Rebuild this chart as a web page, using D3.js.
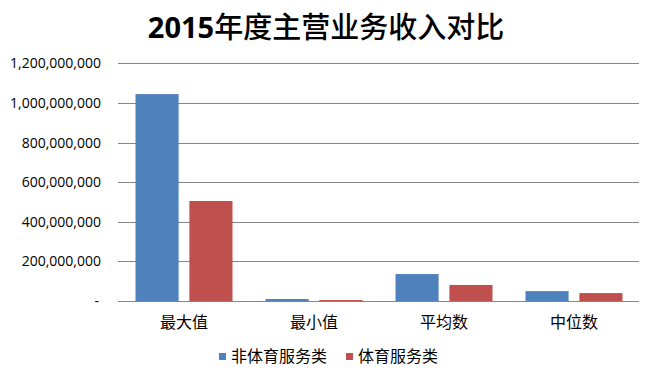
<!DOCTYPE html>
<html>
<head>
<meta charset="utf-8">
<script src="https://cdn.jsdelivr.net/npm/d3@7"></script>
<style>
  body { margin: 0; background: #fff; }
  svg text { font-family: "Noto Sans CJK SC", sans-serif; }
</style>
</head>
<body>
<svg id="chart" width="652" height="373"></svg>
<script>
const categories = ['最大值', '最小值', '平均数', '中位数'];
const seriesNames = ['非体育服务类', '体育服务类'];
const nonSports = [1045000000, 10000000, 136000000, 50000000];
const sports = [505000000, 5000000, 81000000, 40000000];
const yTicks = [0, 200000000, 400000000, 600000000, 800000000, 1000000000, 1200000000];
const colors = ['#4F81BD', '#C0504D'];

const svg = d3.select('#chart');
const plotLeft = 119, plotRight = 639, plotTop = 63.4, plotBottom = 301;

const x = d3.scaleBand()
    .domain(categories)
    .range([plotLeft, plotRight])
    .paddingInner(0.254)
    .paddingOuter(0.127);

const x1 = d3.scaleBand()
    .domain(seriesNames)
    .range([0, x.bandwidth()])
    .paddingInner(0.2);

const y = d3.scaleLinear()
    .domain([0, 1200000000])
    .range([plotBottom, plotTop]);

// title: digits bold, CJK a bit lighter like the original
const title = svg.append('text')
    .attr('x', 326)
    .attr('y', 38)
    .attr('text-anchor', 'middle')
    .style('font-size', '29px')
    .attr('fill', '#000');
title.append('tspan')
    .style('font-family', '"Open Sans", sans-serif')
    .style('font-weight', 'bold')
    .text('2015');
title.append('tspan')
    .style('font-weight', '500')
    .text('年度主营业务收入对比');

// gridlines
svg.append('g')
    .selectAll('line')
    .data(yTicks)
    .enter().append('line')
    .attr('x1', plotLeft - 1)
    .attr('x2', plotRight)
    .attr('y1', d => Math.round(y(d)) + 0.5)
    .attr('y2', d => Math.round(y(d)) + 0.5)
    .attr('stroke', '#868686')
    .attr('stroke-width', 1);

// y labels
const fmt = d3.format(',');
svg.append('g')
    .selectAll('text')
    .data(yTicks)
    .enter().append('text')
    .attr('x', d => d === 0 ? 99 : 101)
    .attr('y', d => y(d) + 5)
    .attr('text-anchor', 'end')
    .style('font-family', '"Open Sans", sans-serif')
    .style('font-size', '14px')
    .attr('fill', '#000')
    .text(d => d === 0 ? '-' : fmt(d));

// bars
const rows = categories.map((c, i) => ({ cat: c, vals: [nonSports[i], sports[i]] }));
const groups = svg.append('g')
    .selectAll('g')
    .data(rows)
    .enter().append('g')
    .attr('transform', d => 'translate(' + x(d.cat) + ',0)');

groups.selectAll('rect')
    .data(d => d.vals.map((v, j) => ({ name: seriesNames[j], v: v, j: j })))
    .enter().append('rect')
    .attr('x', d => x1(d.name))
    .attr('width', x1.bandwidth())
    .attr('y', d => y(d.v))
    .attr('height', d => plotBottom - y(d.v))
    .attr('fill', d => colors[d.j]);

// x labels
svg.append('g')
    .selectAll('text')
    .data(categories)
    .enter().append('text')
    .attr('x', d => x(d) + x.bandwidth() / 2)
    .attr('y', 328)
    .attr('text-anchor', 'middle')
    .style('font-size', '16px')
    .attr('fill', '#000')
    .text(d => d);

// legend
const legendX = [219, 346];
const legend = svg.append('g')
    .selectAll('g')
    .data(seriesNames)
    .enter().append('g')
    .attr('transform', (d, i) => 'translate(' + legendX[i] + ',353)');
legend.append('rect')
    .attr('width', 7)
    .attr('height', 7)
    .attr('fill', (d, i) => colors[i]);
legend.append('text')
    .attr('x', 12)
    .attr('y', 9)
    .style('font-size', '16px')
    .attr('fill', '#000')
    .text(d => d);
</script>
</body>
</html>
